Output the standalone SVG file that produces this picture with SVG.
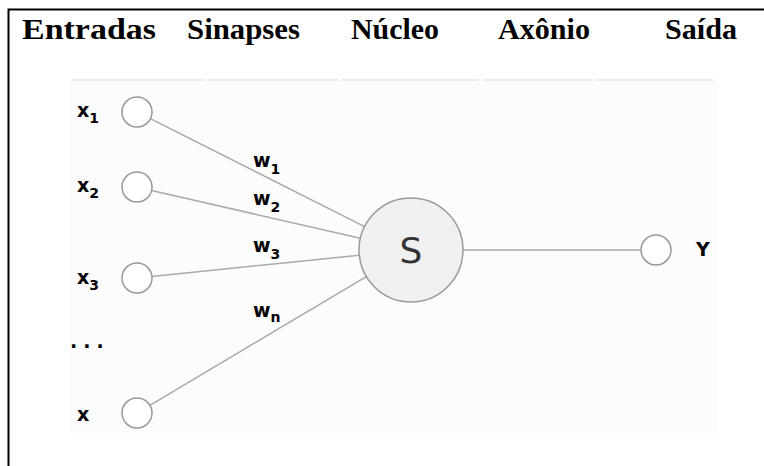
<svg xmlns="http://www.w3.org/2000/svg" width="764" height="466" viewBox="0 0 764 466">
<style>
.title{font-family:"Liberation Serif","Times New Roman",serif;font-weight:bold;font-size:30px;fill:#000}
.lbl{font-family:"DejaVu Sans",Verdana,sans-serif;font-weight:bold;font-size:19px;fill:#000}
.sub{font-size:14px}
.node{fill:#fff;stroke:#999;stroke-width:1.5}
.edge{stroke:#aaa;stroke-width:1.5;fill:none}
.sep{stroke:#ebebeb;stroke-width:2}
</style>
<rect width="764" height="466" fill="#fff"/>
<path d="M8.5,466 V9.5 H764" fill="none" stroke="#000" stroke-width="2"/>
<g id="headers">
<text class="title" x="22" y="39" textLength="134" lengthAdjust="spacingAndGlyphs">Entradas</text>
<text class="title" x="187" y="39" textLength="113" lengthAdjust="spacingAndGlyphs">Sinapses</text>
<text class="title" x="351" y="39" textLength="88" lengthAdjust="spacingAndGlyphs">Núcleo</text>
<text class="title" x="498" y="39" textLength="92" lengthAdjust="spacingAndGlyphs">Axônio</text>
<text class="title" x="665" y="39" textLength="72" lengthAdjust="spacingAndGlyphs">Saída</text>
</g>
<rect x="70" y="80" width="648" height="354" fill="#fcfcfc"/>
<g id="separators">
<line class="sep" x1="72" y1="80" x2="204" y2="80"/>
<line class="sep" x1="207" y1="80" x2="338" y2="80"/>
<line class="sep" x1="341" y1="80" x2="479" y2="80"/>
<line class="sep" x1="483" y1="80" x2="593" y2="80"/>
<line class="sep" x1="596" y1="80" x2="713" y2="80"/>
</g>
<g id="connectors">
<line class="edge" x1="150.4" y1="118.7" x2="364.6" y2="226.6"/>
<line class="edge" x1="151.6" y1="190.4" x2="360.3" y2="238.3"/>
<line class="edge" x1="151.9" y1="276.5" x2="359.3" y2="255.3"/>
<line class="edge" x1="149.9" y1="405.3" x2="366.3" y2="276.6"/>
<line class="edge" x1="463" y1="250" x2="641" y2="250"/>
<text class="lbl" x="253" y="167">w<tspan class="sub" dy="7">1</tspan></text>
<text class="lbl" x="253" y="205">w<tspan class="sub" dy="7">2</tspan></text>
<text class="lbl" x="253" y="252">w<tspan class="sub" dy="7">3</tspan></text>
<text class="lbl" x="253" y="317">w<tspan class="sub" dy="5">n</tspan></text>
</g>
<g id="x1"><circle class="node" cx="137" cy="112" r="15"/><text class="lbl" x="77" y="117">x<tspan class="sub" dy="6">1</tspan></text></g>
<g id="x2"><circle class="node" cx="137" cy="187" r="15"/><text class="lbl" x="77" y="192">x<tspan class="sub" dy="6">2</tspan></text></g>
<g id="x3"><circle class="node" cx="137" cy="278" r="15"/><text class="lbl" x="77" y="284">x<tspan class="sub" dy="6">3</tspan></text></g>
<g id="dots"><text class="lbl" x="70" y="348" letter-spacing="6">...</text></g>
<g id="xn"><circle class="node" cx="137" cy="413" r="15"/><text class="lbl" x="77" y="421">x</text></g>
<g id="S"><circle cx="411" cy="250" r="52" fill="#f0f0f0" stroke="#999" stroke-width="1.5"/><text x="411" y="263" text-anchor="middle" font-family="DejaVu Sans,Verdana,sans-serif" font-size="36" fill="#333">S</text></g>
<g id="Y"><circle class="node" cx="656" cy="250" r="15"/><text class="lbl" x="696" y="256" font-size="17">Y</text></g>
</svg>
